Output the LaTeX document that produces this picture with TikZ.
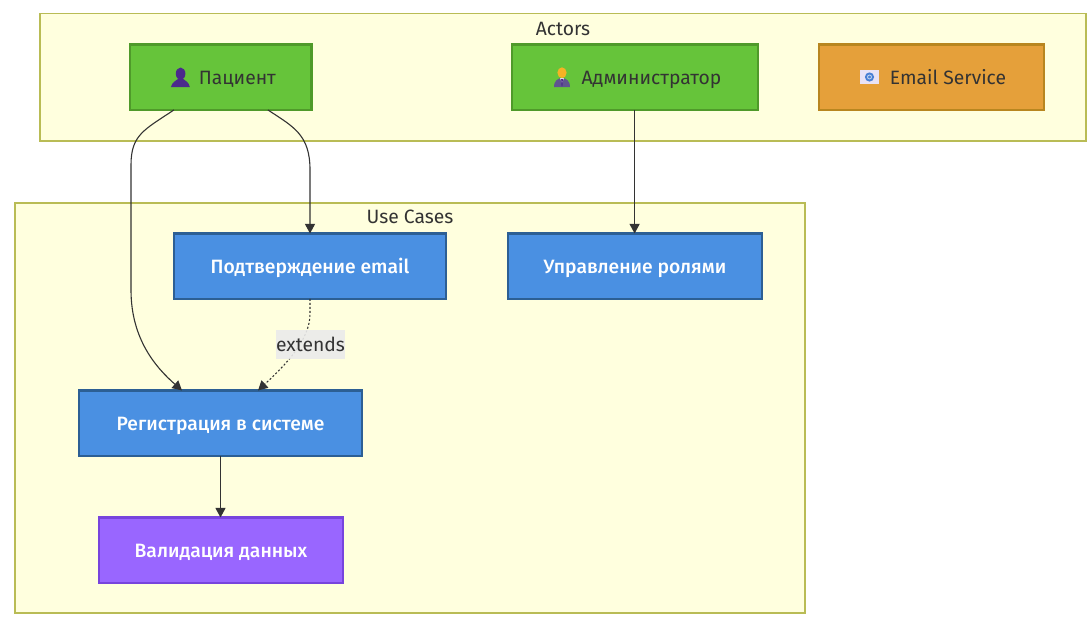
\documentclass[tikz,border=0pt]{standalone}
\usepackage{fontspec}
\setmainfont{Fira Sans}
\newfontfamily\mediumfont{Fira Sans Medium}
\usetikzlibrary{arrows.meta,calc}
\definecolor{sgfill}{HTML}{FFFFDE}
\definecolor{sgline}{HTML}{B9BC55}
\definecolor{txt}{HTML}{333333}
\definecolor{gfill}{HTML}{66C43A}
\definecolor{gline}{HTML}{4F9A2A}
\definecolor{bfill}{HTML}{4A90E2}
\definecolor{bline}{HTML}{2C5F94}
\definecolor{pfill}{HTML}{9966FF}
\definecolor{pline}{HTML}{7744DD}
\definecolor{ofill}{HTML}{E5A03A}
\definecolor{oline}{HTML}{B8861F}
\definecolor{lblfill}{HTML}{EBEBEB}
\definecolor{ava}{HTML}{4B2A8C}
\definecolor{suit}{HTML}{5F5590}
\definecolor{skin}{HTML}{F5B324}
\definecolor{env}{HTML}{E9E3F6}
\definecolor{envb}{HTML}{4A80D4}
\tikzset{
  x=1pt,y=-1pt,
  every node/.style={font=\fontsize{19.3}{23}\selectfont,inner sep=0pt,outer sep=0pt},
  group/.style={draw=sgline,fill=sgfill,line width=1.3pt,anchor=north west},
  grouptitle/.style={text=txt,anchor=center},
  box/.style={draw,line width=2.4pt,minimum height=65.5pt,anchor=center,text height=16pt,text depth=2.4pt},
  actor/.style={box,fill=gfill,draw=gline,text=txt},
  service/.style={box,fill=ofill,draw=oline,text=txt},
  usecase/.style={box,fill=bfill,draw=bline,text=white,font=\fontsize{19.3}{23}\selectfont\mediumfont},
  subcase/.style={box,fill=pfill,draw=pline,text=white,font=\fontsize{19.3}{23}\selectfont\mediumfont},
  link/.style={draw=txt,line width=1.1pt,-{Triangle[length=9.5pt,width=10pt]}},
  dotlink/.style={link,dash pattern=on 2pt off 2pt},
  edgelabel/.style={fill=lblfill,text=txt,minimum width=69pt,minimum height=29pt},
}
\newcommand{\iconsp}{\hspace*{33pt}}
\begin{document}
\begin{tikzpicture}
\useasboundingbox (0,0) rectangle (1091,619);
\fill[white] (0,0) rectangle (1091,619);
\node[group,minimum width=1046pt,minimum height=127.4pt] (actors) at (40,13.7) {};
\node[grouptitle] (actorst) at (563,28.5) {Actors};
\node[group,minimum width=790pt,minimum height=410pt] (cases) at (15,203) {};
\node[grouptitle] (casest) at (410,217) {Use Cases};
\node[actor,minimum width=181.5pt] (pat) at (220.9,77.2) {\iconsp Пациент};
\node[actor,minimum width=246pt] (adm) at (635,77.2) {\iconsp Администратор};
\node[service,minimum width=225pt] (mail) at (931.5,77.2) {\iconsp Email Service};
\node[usecase,minimum width=272pt] (conf) at (310,266.2) {Подтверждение email};
\node[usecase,minimum width=254pt] (role) at (635,266.2) {Управление ролями};
\node[usecase,minimum width=283pt] (reg) at (220.5,423.2) {Регистрация в системе};
\node[subcase,minimum width=243.5pt] (val) at (221,550.2) {Валидация данных};
% icons
\begin{scope}[shift={(pat.center)}]
  \fill[ava] (-40.3,-3.5) ellipse [x radius=4.8,y radius=6.2];
  \fill[ava] (-50,10) .. controls (-49,5) and (-45,3.5) .. (-42.5,1.5) -- (-38,1.5) .. controls (-35.5,3.5) and (-32,5) .. (-31,10) -- cycle;
\end{scope}
\begin{scope}[shift={(adm.center)}]
  \fill[suit] (-81,10) .. controls (-81,3) and (-77,1.5) .. (-73,0.5) .. controls (-69,1.5) and (-65,3) .. (-65,10) -- cycle;
  \fill[white!80!suit] (-75,0.8) -- (-71,0.8) -- (-73,6) -- cycle;
  \fill[ava] (-73.8,2) -- (-72.2,2) -- (-72.4,8) -- (-73,9.5) -- (-73.6,8) -- cycle;
  \fill[skin] (-73,-4.5) ellipse [x radius=4.6,y radius=5.4];
\end{scope}
\begin{scope}[shift={(mail.center)}]
  \fill[env] (-71.5,-7.2) rectangle (-52.5,6.8);
  \fill[envb] (-62,-0.2) circle [radius=4.6];
  \draw[white!70!envb,line width=0.8pt] (-62,-0.2) circle [radius=2];
\end{scope}
\coordinate (p1) at ([xshift=-47pt]pat.south);
\coordinate (p2) at ([xshift=47pt]pat.south);
\coordinate (r1) at ([xshift=-38.5pt]reg.north);
\coordinate (r2) at ([xshift=37.5pt]reg.north);
\draw[dotlink] (conf.south) -- ++(0,15) .. controls +(0,26) and ($(r2)+(27,-25)$) .. (r2);
\node[edgelabel,fill opacity=0.9,text opacity=1] (ext) at (310.5,344.5) {extends};
\draw[link] (p1) .. controls +(-30,20) and (131,135) .. (131,165) -- (131,290) .. controls (131,340) and ($(r1)+(-25,-22)$) .. (r1);
\draw[link] (p2) .. controls +(26,17) and (310,135) .. (310,170) -- (conf.north);
\draw[link] ([xshift=-0.4pt]adm.south) -- ([xshift=-0.4pt]role.north);
\draw[link] (reg.south) -- (reg.south |- val.north);
\end{tikzpicture}
\end{document}
